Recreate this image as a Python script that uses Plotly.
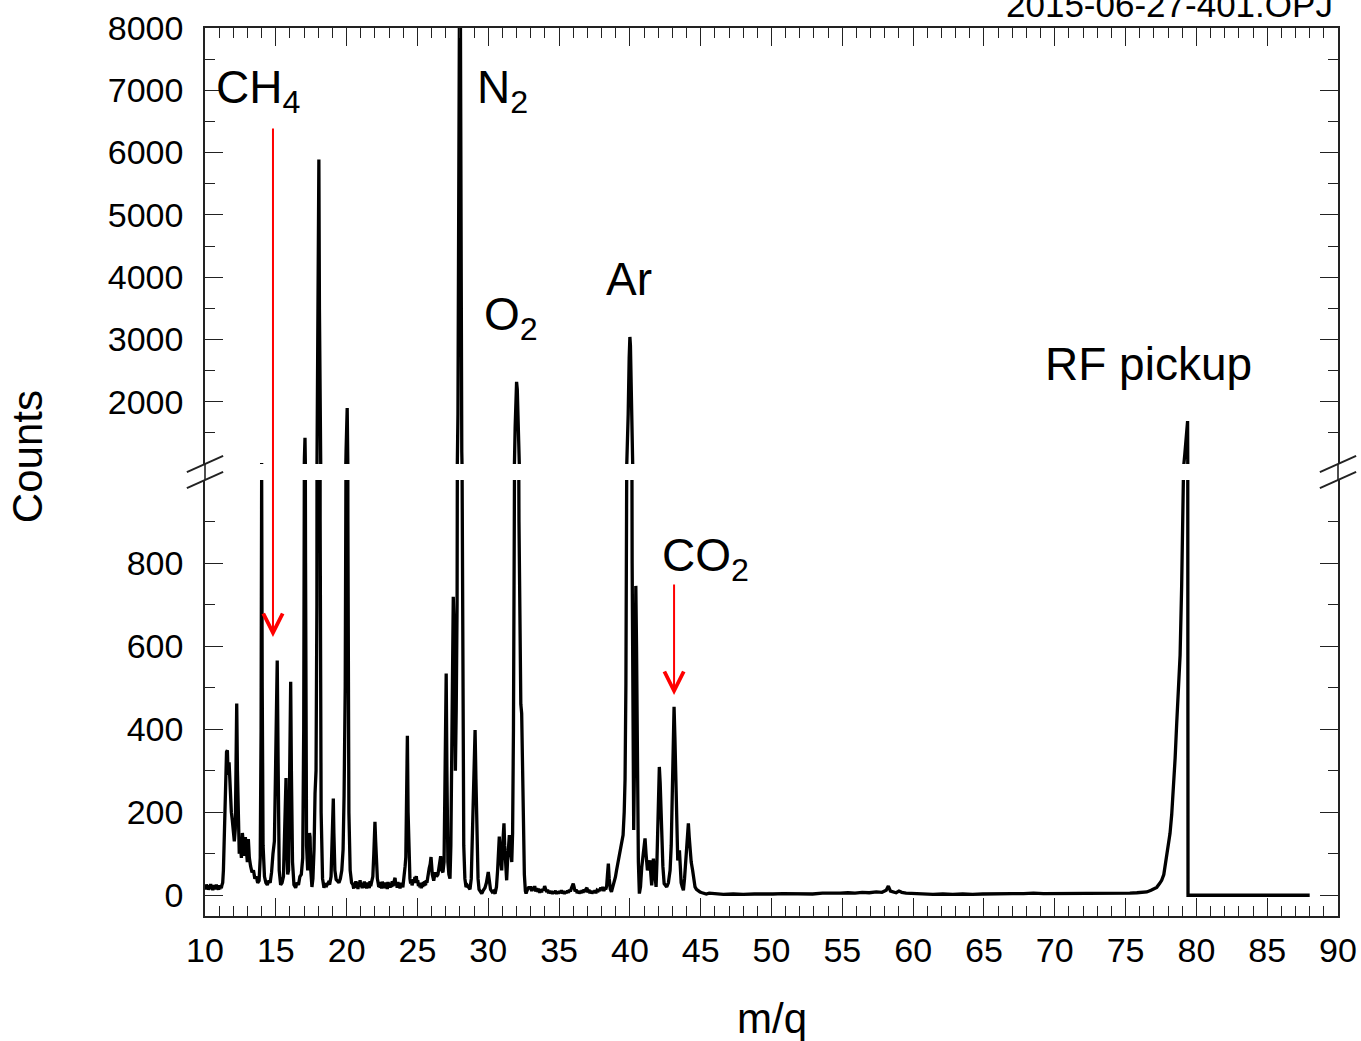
import plotly.graph_objects as go

# ---------------- data (m/q, counts) ----------------
mq_a = [10.0, 10.05, 10.1, 10.15, 10.2, 10.25, 10.3, 10.35, 10.4, 10.45, 10.5, 10.55, 10.6, 10.65, 10.7,
        10.75, 10.8, 10.85, 10.9, 10.95, 11.0, 11.05, 11.1, 11.15, 11.2, 11.25, 11.3, 11.38, 11.45,
        11.52, 11.58, 11.63, 11.7, 11.78, 11.86, 11.93, 12.0, 12.07, 12.14, 12.2, 12.24, 12.29, 12.35,
        12.42, 12.5, 12.57, 12.64, 12.71, 12.78, 12.85, 12.92, 12.99, 13.06, 13.13, 13.22, 13.32, 13.42,
        13.52, 13.62, 13.72, 13.82, 13.9, 13.96, 14.0, 14.04, 14.1, 14.2, 14.3, 14.4, 14.5, 14.6, 14.7,
        14.8, 14.9, 14.98, 15.05, 15.1, 15.16, 15.24, 15.34, 15.44, 15.54, 15.62, 15.68, 15.72, 15.77,
        15.84, 15.9, 15.96, 16.01, 16.05, 16.1, 16.18, 16.28, 16.4, 16.5, 16.6, 16.7, 16.8, 16.9, 16.97,
        17.02, 17.06, 17.1, 17.17, 17.25, 17.32, 17.38, 17.42, 17.47, 17.55, 17.62, 17.7, 17.77, 17.84,
        17.9, 17.95, 18.0, 18.04, 18.08, 18.13, 18.2, 18.3, 18.4, 18.5, 18.6, 18.7, 18.8, 18.9, 18.97,
        19.02, 19.06, 19.1, 19.17, 19.26, 19.36, 19.46, 19.56, 19.66, 19.75, 19.82, 19.9, 19.96, 20.0,
        20.04, 20.09, 20.16, 20.25, 20.35]
cnt_a = [22, 14, 26, 18, 24, 13, 22, 16, 27, 15, 21, 12, 25, 17, 23,
         14, 26, 16, 22, 13, 24, 15, 21, 17, 25, 30, 60, 180, 300,
         345, 349, 290, 320, 240, 200, 180, 145, 130, 160, 330, 462, 300, 150,
         100, 120, 90, 150, 125, 95, 140, 105, 80, 135, 90, 70, 55, 60,
         40, 45, 30, 35, 90, 400, 1015, 500, 120, 45, 30, 25, 35, 30, 55,
         100, 130, 300, 480, 565, 330, 60, 25, 30, 45, 130, 230, 282, 120,
         50, 60, 250, 440, 514, 300, 80, 25, 18, 30, 25, 45, 50, 90, 400,
         1100, 1420, 800, 120, 60, 90, 150, 140, 60, 20, 40, 110, 245, 300,
         700, 2500, 5500, 5890, 3500, 900, 200, 40, 18, 28, 24, 30, 26, 45, 120,
         200, 233, 150, 60, 38, 35, 30, 40, 60, 110, 240, 500, 1200, 1800,
         1900, 900, 200, 60, 30]

mq_b = [20.45, 20.5, 20.55, 20.6, 20.65, 20.7, 20.75, 20.8, 20.85, 20.9, 20.95, 21.0, 21.05, 21.1, 21.15,
        21.2, 21.25, 21.3, 21.35, 21.4, 21.45, 21.5, 21.55, 21.6, 21.65, 21.7, 21.75, 21.8, 21.85,
        21.92, 21.97, 22.0, 22.05, 22.11,
        22.17, 22.22, 22.27, 22.32, 22.37, 22.42, 22.47, 22.52, 22.57, 22.62, 22.67, 22.72, 22.77, 22.82,
        22.87, 22.92, 22.97, 23.02, 23.07, 23.12, 23.17, 23.22, 23.27, 23.32, 23.37, 23.42, 23.47, 23.52,
        23.57, 23.62, 23.67, 23.72, 23.77, 23.82, 23.87, 23.92, 23.97, 24.02, 24.07,
        24.13, 24.18, 24.24, 24.29, 24.34, 24.4,
        24.47, 24.52, 24.57, 24.62, 24.67, 24.72, 24.77, 24.82, 24.87, 24.92, 24.97, 25.02, 25.07, 25.12,
        25.17, 25.22, 25.27, 25.32, 25.37, 25.42, 25.47, 25.52, 25.57, 25.62, 25.67, 25.72, 25.77,
        25.83, 25.9, 25.96, 26.05, 26.15, 26.25, 26.35, 26.45, 26.55, 26.64, 26.72, 26.8, 26.88, 26.95,
        27.0, 27.03, 27.08, 27.15, 27.22, 27.3, 27.36, 27.42, 27.48, 27.53, 27.58, 27.63, 27.68, 27.74,
        27.8, 27.86, 27.92, 27.97, 28.03, 28.08, 28.13, 28.2, 28.27, 28.35, 28.43, 28.52, 28.62, 28.71,
        28.8, 28.88, 28.95, 29.02, 29.07, 29.13, 29.2, 29.28, 29.35, 29.45, 29.54, 29.65, 29.77, 29.87,
        29.95, 30.0, 30.06, 30.16, 30.28, 30.38, 30.48, 30.58, 30.66, 30.73, 30.78, 30.84, 30.9, 30.95,
        31.02, 31.07, 31.11, 31.16, 31.22, 31.3, 31.36, 31.42, 31.49, 31.55, 31.6, 31.66, 31.72, 31.78,
        31.84, 31.9, 31.96, 32.0, 32.05, 32.1, 32.17, 32.24, 32.3, 32.36, 32.42, 32.48, 32.55, 32.62,
        32.67, 32.75, 32.85]
cnt_b = [25, 16, 30, 20, 34, 18, 28, 15, 32, 22, 36, 20, 30, 17, 29,
         21, 33, 18, 27, 16, 31, 20, 28, 17, 34, 22, 30, 38, 45,
         100, 160, 177, 130, 60,
         40, 30, 20, 32, 18, 28, 16, 33, 20, 29, 17, 31, 19, 27,
         15, 32, 21, 30, 18, 28, 20, 34, 22, 30, 36, 42, 24, 30,
         18, 32, 20, 27, 16, 30, 21, 29, 19, 33, 38,
         70, 92, 250, 384, 200, 70,
         40, 28, 36, 24, 32, 38, 30, 44, 38, 46, 30, 36, 22, 30,
         19, 28, 17, 30, 20, 32, 22, 34, 24, 36, 30, 45, 55,
         65, 75, 92, 50, 35, 55, 45, 50, 70, 94, 60, 55, 80, 250,
         480, 534, 300, 80, 50, 40, 120, 400, 600, 719, 650, 450, 300, 450,
         700, 1800, 5000, 8600, 8600, 4000, 1200, 400, 120, 40, 20, 24, 18, 14,
         40, 150, 300, 390, 398, 280, 120, 40, 14, 10, 4, 12, 18, 30,
         50, 56, 40, 14, 8, 10, 4, 20, 60, 120, 141, 100, 70, 60,
         120, 165, 173, 120, 70, 36, 80, 130, 145, 120, 90, 80, 150, 400,
         900, 1600, 2250, 2320, 2200, 1500, 900, 600, 460, 438, 300, 150, 50, 10,
         4, 12, 18]

mq_c = [33.0, 33.07, 33.14, 33.21, 33.28, 33.35, 33.42, 33.49, 33.56, 33.63, 33.7, 33.77, 33.84, 33.91,
        33.98, 34.05, 34.12, 34.19, 34.26, 34.33, 34.4, 34.47, 34.54, 34.61, 34.68, 34.75, 34.82, 34.89,
        34.96, 35.03, 35.1, 35.17, 35.24, 35.31, 35.38, 35.45, 35.52, 35.59, 35.66, 35.73, 35.8, 35.87,
        35.94, 36.0, 36.06, 36.13, 36.2, 36.27, 36.34, 36.41, 36.48, 36.55, 36.62, 36.69, 36.76, 36.83,
        36.9, 36.97, 37.04, 37.11, 37.18, 37.25, 37.32, 37.39, 37.46, 37.53, 37.6, 37.67, 37.74, 37.81,
        37.88, 37.95, 38.02, 38.09, 38.16, 38.23, 38.3, 38.36, 38.42, 38.48, 38.54,
        38.62, 38.7, 38.8, 38.9, 38.98, 39.06, 39.14, 39.2, 39.28, 39.36, 39.44, 39.52, 39.6, 39.66,
        39.72, 39.8, 39.88, 39.95, 40.0, 40.04, 40.1, 40.16, 40.22, 40.27, 40.32, 40.37, 40.42, 40.47,
        40.53, 40.6, 40.67, 40.75, 40.84, 40.95, 41.02, 41.07, 41.14, 41.24, 41.32, 41.42, 41.48, 41.54,
        41.6, 41.66, 41.74, 41.8, 41.85, 41.91, 41.96, 42.02, 42.08, 42.14, 42.2, 42.25, 42.33, 42.42,
        42.5, 42.6, 42.72, 42.84, 42.92, 42.98, 43.05, 43.12, 43.18, 43.26, 43.32, 43.38, 43.44, 43.5,
        43.56, 43.62, 43.7, 43.78, 43.86, 43.92, 43.97, 44.05, 44.13, 44.19, 44.25, 44.33, 44.43, 44.52,
        44.6, 44.7, 44.82, 44.95, 45.1, 45.25, 45.4]
cnt_c = [18, 10, 20, 12, 22, 9, 17, 8, 16, 6, 14, 7, 15, 12,
         22, 16, 8, 13, 5, 11, 4, 10, 3, 9, 5, 11, 3, 9,
         4, 10, 5, 12, 4, 10, 3, 9, 5, 11, 6, 13, 9, 17,
         22, 28, 20, 9, 14, 5, 11, 4, 10, 5, 12, 6, 14, 8,
         15, 18, 7, 13, 5, 11, 4, 10, 6, 12, 5, 11, 8, 15,
         10, 19, 12, 20, 10, 17, 14, 22, 50, 76, 40,
         14, 8, 20, 35, 44, 60, 75, 84, 95, 110, 120, 145, 200, 280,
         510, 1000, 1800, 2700, 3040, 2900, 1800, 800, 300, 157, 300, 600, 745, 600,
         300, 80, 4, 20, 68, 100, 130, 137, 100, 60, 70, 84, 50, 24,
         50, 88, 60, 30, 20, 80, 149, 260, 309, 270, 190, 149, 70, 28,
         24, 20, 30, 60, 120, 220, 380, 454, 380, 236, 150, 84, 95, 108,
         70, 30, 20, 12, 40, 70, 84, 130, 173, 140, 100, 80, 60, 30,
         20, 14, 10, 8, 6, 4, 3]

mq_d = [45.6, 46.0, 46.6, 47.3, 48.0, 48.8, 49.5, 50.1, 50.8, 51.5, 52.2, 52.9, 53.6, 54.3, 54.85,
        55.4, 55.9, 56.4, 56.9, 57.4, 57.8, 58.1, 58.25, 58.4, 58.6, 58.8, 59.0, 59.2, 59.5, 60.0,
        60.7, 61.4, 62.1, 62.8, 63.5, 64.2, 64.9, 65.6, 66.3, 67.0, 67.8, 68.5, 69.2, 69.9, 70.6,
        71.3, 72.0, 72.5, 73.2, 73.9, 74.6, 75.3, 75.8, 76.2]
cnt_d = [5, 3, 2, 3, 2, 3, 2, 3, 4, 3, 4, 3, 5, 4, 5,
         6, 5, 7, 6, 8, 7, 12, 22, 10, 8, 6, 10, 7, 5, 4,
         3, 2, 3, 2, 3, 2, 3, 4, 3, 4, 4, 5, 4, 4, 5,
         4, 5, 4, 5, 4, 5, 5, 6, 7]

mq_rf = [76.5, 76.8, 77.0, 77.2, 77.4, 77.55, 77.7, 77.8, 77.9, 78.0, 78.14, 78.26, 78.37, 78.5,
         78.61, 78.73, 78.85, 78.96, 79.08, 79.18, 79.28, 79.38, 79.41, 80.5, 82.0, 84.0, 86.0, 88.0]
cnt_rf = [8, 12, 15, 19, 28, 36, 50, 70, 95, 115, 149, 195, 248, 330,
          413, 500, 578, 744, 909, 1150, 1420, 1690, 0, 0, 0, 0, 0, 0]

x_ticks = [10, 15, 20, 25, 30, 35, 40, 45, 50, 55, 60, 65, 70, 75, 80, 85, 90]
y_low_ticks = [0, 200, 400, 600, 800]
y_low_minor = [100, 300, 500, 700, 900]
y_high_ticks = [2000, 3000, 4000, 5000, 6000, 7000, 8000]
y_high_minor = [1500, 2500, 3500, 4500, 5500, 6500, 7500]

mq = mq_a + mq_b + mq_c + mq_d + mq_rf
counts = cnt_a + cnt_b + cnt_c + cnt_d + cnt_rf

# ---------------- figure ----------------
FONT = "Arial, Liberation Sans, sans-serif"
AX = "#222222"
line = dict(color="black", width=3.3)

fig = go.Figure()
fig.add_trace(go.Scatter(x=mq, y=counts, mode="lines", line=line, xaxis="x", yaxis="y",
                         showlegend=False, hoverinfo="skip"))
fig.add_trace(go.Scatter(x=mq, y=counts, mode="lines", line=line, xaxis="x2", yaxis="y2",
                         showlegend=False, hoverinfo="skip"))

low_top = 436 / 888
high_bot = 452 / 888

common_x = dict(range=[10, 90], showgrid=False, zeroline=False, showline=True, linecolor=AX,
                linewidth=1.6, ticks="inside", ticklen=18, tickwidth=1.4, tickcolor=AX,
                minor=dict(dtick=1, tick0=10, ticks="inside", ticklen=10, tickwidth=1.2, tickcolor=AX),
                tickvals=x_ticks, automargin=False)
yfont = dict(size=34, family=FONT, color="black")
fig.update_layout(
    width=1361, height=1041, autosize=False,
    paper_bgcolor="white", plot_bgcolor="white",
    margin=dict(l=205, r=23, t=28, b=125),
    font=dict(family=FONT, color="black"),
    xaxis=dict(**common_x, anchor="y", side="bottom", domain=[0, 1], ticklabelstandoff=3,
               tickfont=yfont),
    xaxis2=dict(**common_x, anchor="y2", side="top", matches="x", showticklabels=False, domain=[0, 1]),
    yaxis=dict(domain=[0, low_top], range=[-50, 1000], showgrid=False, zeroline=False, showline=True,
               linecolor=AX, linewidth=1.6, mirror="ticks", ticks="inside", ticklen=18, tickwidth=1.4,
               tickcolor=AX, tickvals=y_low_ticks, ticklabelstandoff=13, automargin=False,
               minor=dict(tickvals=y_low_minor, ticks="inside", ticklen=10, tickwidth=1.2, tickcolor=AX),
               tickfont=yfont, anchor="x"),
    yaxis2=dict(domain=[high_bot, 1], range=[1000, 8000], showgrid=False, zeroline=False, showline=True,
                linecolor=AX, linewidth=1.6, mirror="ticks", ticks="inside", ticklen=18, tickwidth=1.4,
                tickcolor=AX, tickvals=y_high_ticks, ticklabelstandoff=13, automargin=False,
                minor=dict(tickvals=y_high_minor, ticks="inside", ticklen=10, tickwidth=1.2, tickcolor=AX),
                tickfont=yfont, anchor="x2"),
)

# frame segments across the break and break marks
shapes = []
for xp in (0, 1):
    shapes.append(dict(type="line", xref="paper", yref="paper", x0=xp, x1=xp, y0=low_top, y1=high_bot,
                       line=dict(color=AX, width=1.6)))
    for yc in (high_bot, low_top):
        shapes.append(dict(type="line", xref="paper", yref="paper",
                           x0=xp - 0.016, x1=xp + 0.016, y0=yc - 0.0092, y1=yc + 0.0092,
                           line=dict(color=AX, width=2)))
fig.update_layout(shapes=shapes)

ann = []
lab = dict(size=46, family=FONT, color="black")
def label(text, x, y, yref):
    ann.append(dict(text=text, x=x, y=y, xref="x", yref=yref, xanchor="left", yanchor="middle",
                    showarrow=False, font=lab))

label("CH<sub>4</sub>", 10.6, 7000, "y2")
label("N<sub>2</sub>", 29.05, 6990, "y2")
label("O<sub>2</sub>", 29.55, 3360, "y2")
label("Ar", 38.2, 3970, "y2")
label("CO<sub>2</sub>", 42.1, 812, "y")
label("RF pickup", 69.15, 2600, "y2")

# red arrows
ann.append(dict(x=14.8, y=622, xref="x", yref="y", ax=0, ay=-510, axref="pixel", ayref="pixel",
                text="", showarrow=True, arrowhead=5, arrowsize=1.9, arrowwidth=2, arrowcolor="red",
                standoff=0))
ann.append(dict(x=43.12, y=482, xref="x", yref="y", ax=0, ay=-112, axref="pixel", ayref="pixel",
                text="", showarrow=True, arrowhead=5, arrowsize=1.9, arrowwidth=2, arrowcolor="red",
                standoff=0))

# axis titles and file label
ann.append(dict(text="Counts", x=-0.156, y=0.517, xref="paper", yref="paper", textangle=-90,
                showarrow=False, xanchor="center", yanchor="middle", font=dict(size=42, family=FONT)))
ann.append(dict(text="m/q", x=0.5, y=-0.115, xref="paper", yref="paper", showarrow=False,
                xanchor="center", yanchor="middle", font=dict(size=42, family=FONT)))
ann.append(dict(text="2015-06-27-401.OPJ", x=0.9974, y=1.0023, xref="paper", yref="paper",
                showarrow=False, xanchor="right", yanchor="bottom", font=dict(size=35, family=FONT)))
fig.update_layout(annotations=ann)

fig.write_html("out.html", config={"displayModeBar": False},
               post_script="document.body.style.margin='0';")
